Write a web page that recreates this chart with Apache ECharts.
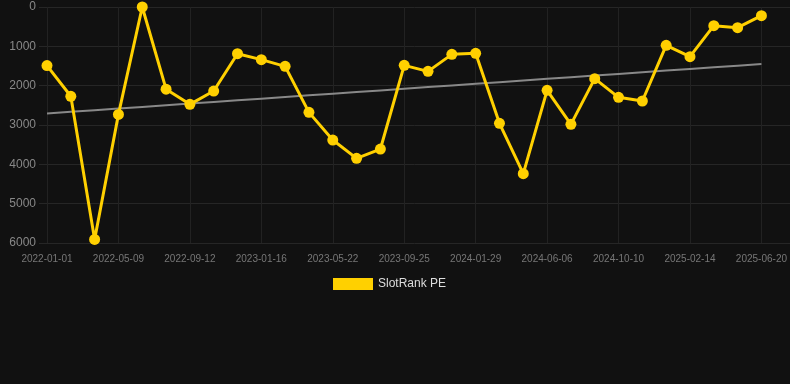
<!DOCTYPE html>
<html>
<head>
<meta charset="utf-8">
<script src="https://cdn.jsdelivr.net/npm/echarts@6/dist/echarts.min.js"></script>
<style>
html,body{margin:0;padding:0;background:#111111;}
#chart{width:790px;height:384px;}
</style>
</head>
<body>
<div id="chart"></div>
<script>
var dates = ['2022-01-01','2022-02-14','2022-03-28','2022-05-09','2022-06-20','2022-08-01','2022-09-12','2022-10-24','2022-12-05','2023-01-16','2023-02-27','2023-04-10','2023-05-22','2023-07-03','2023-08-14','2023-09-25','2023-11-06','2023-12-18','2024-01-29','2024-03-11','2024-04-24','2024-06-06','2024-07-18','2024-08-29','2024-10-10','2024-11-21','2025-01-03','2025-02-14','2025-03-28','2025-05-09','2025-06-20'];
var slotRankPE = [1490,2270,5910,2730,0,2090,2475,2136,1187,1339,1509,2679,3382,3848,3611,1483,1636,1204,1178,2958,4238,2119,2984,1822,2297,2390,975,1263,475,526,220];
var yTicks = [0,1000,2000,3000,4000,5000,6000];
var seriesName = 'SlotRank PE';

// linear regression trend
var n = slotRankPE.length, sx=0, sy=0, sxy=0, sxx=0;
for (var i=0;i<n;i++){sx+=i;sy+=slotRankPE[i];sxy+=i*slotRankPE[i];sxx+=i*i;}
var slope=(n*sxy-sx*sy)/(n*sxx-sx*sx);
var icpt=(sy-slope*sx)/n;
var trend = slotRankPE.map(function(_,i){return icpt+slope*i;});

var chart = echarts.init(document.getElementById('chart'));
var yMin = yTicks[0], yMax = yTicks[yTicks.length-1], yInt = yTicks[1]-yTicks[0];
chart.setOption({
  backgroundColor:'#111111',
  animation:false,
  grid:[
    {left:39,right:0,top:7,bottom:141},
    {left:47,right:28,top:7,bottom:141}
  ],
  xAxis:[
    {gridIndex:0,type:'category',data:dates,show:false},
    {gridIndex:1,type:'category',data:dates,boundaryGap:false,
     axisLine:{show:false},axisTick:{show:false},
     axisLabel:{interval:2,color:'#777777',fontSize:10,margin:11,fontFamily:'Liberation Sans, Arial, sans-serif'},
     splitLine:{show:true,interval:2,lineStyle:{color:'#222222',width:1}}}
  ],
  yAxis:[
    {gridIndex:0,type:'value',inverse:true,min:yMin,max:yMax,interval:yInt,
     axisLine:{show:false},axisTick:{show:false},
     axisLabel:{color:'#888888',fontSize:12,margin:3,fontFamily:'Liberation Sans, Arial, sans-serif',
       formatter:function(v){return String(v);}},
     splitLine:{show:true,lineStyle:{color:'#262626',width:1}}},
    {gridIndex:1,type:'value',inverse:true,min:yMin,max:yMax,interval:yInt,show:false,splitLine:{show:false}}
  ],
  legend:{
    data:[seriesName],top:273,left:328,itemWidth:40,itemHeight:12,itemGap:10,
    textStyle:{color:'#dddddd',fontSize:12,fontFamily:'Liberation Sans, Arial, sans-serif'},
    icon:'rect'
  },
  series:[
    {name:'trend',type:'line',xAxisIndex:1,yAxisIndex:1,data:trend,symbol:'none',
     lineStyle:{color:'#888888',width:2},itemStyle:{color:'#888888'},silent:true,z:1},
    {name:seriesName,type:'line',xAxisIndex:1,yAxisIndex:1,data:slotRankPE,
     symbol:'circle',symbolSize:11,
     lineStyle:{color:'#ffd000',width:3},itemStyle:{color:'#ffd000'},z:2}
  ]
});
</script>
</body>
</html>
